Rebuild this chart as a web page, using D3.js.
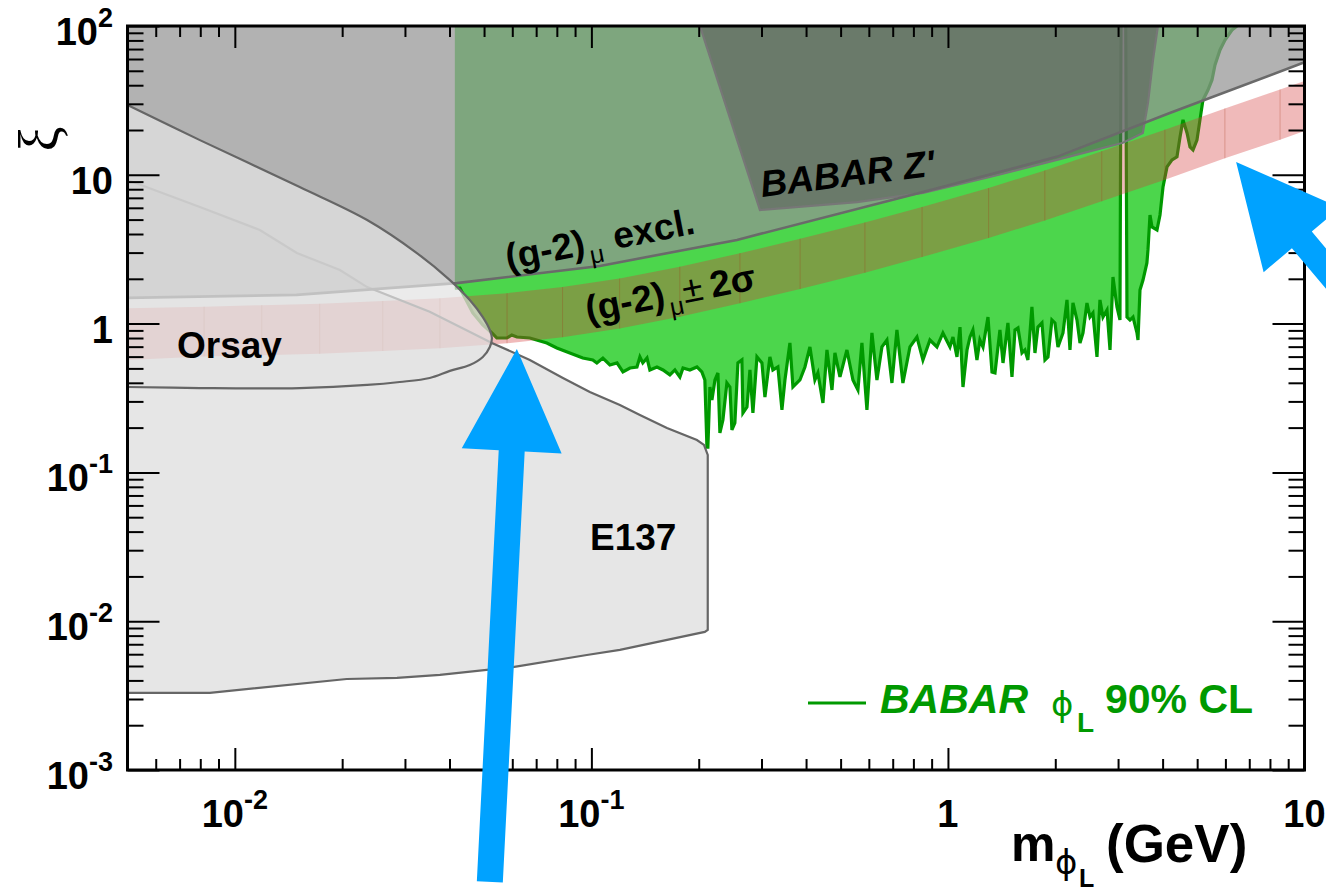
<!DOCTYPE html>
<html>
<head>
<meta charset="utf-8">
<script src="https://cdn.jsdelivr.net/npm/d3@7"></script>
<style>
  html, body { margin: 0; padding: 0; background: #fff; }
  svg { display: block; }
  text { font-family: "Liberation Sans", Arial, Helvetica, sans-serif; }
</style>
</head>
<body>
<svg id="chart" width="1326" height="895"></svg>
<script>
// ---------- data (mass in GeV, coupling xi) ----------

// BABAR phi_L 90% CL upper limit (region above is excluded)
const limitMass = [0.0414, 0.0414, 0.0428, 0.0465, 0.0496, 0.0526, 0.0543, 0.0579, 0.0598, 0.0618, 0.0672,
  0.0750, 0.0800, 0.0870, 0.0946, 0.1009, 0.1036, 0.1077, 0.1127, 0.1180, 0.1226, 0.1283, 0.1342,
  0.1368, 0.1394, 0.1432, 0.1459, 0.1527, 0.1588, 0.1660, 0.1715, 0.1771, 0.1807, 0.1889, 0.1977,
  0.2041, 0.2081, 0.2109, 0.2122, 0.2150, 0.2178, 0.2221, 0.2264, 0.2293, 0.2338, 0.2399, 0.2446,
  0.2478, 0.2526, 0.2576, 0.2643, 0.2661, 0.2731, 0.2784, 0.2838, 0.2913, 0.3008, 0.3067, 0.3167,
  0.3229, 0.3335, 0.3423, 0.3490, 0.3604, 0.3675, 0.3845, 0.3971, 0.4101, 0.4235, 0.4318, 0.4461,
  0.4578, 0.4728, 0.4820, 0.4979, 0.5208, 0.5414, 0.5592, 0.5738, 0.5926, 0.6121, 0.6322, 0.6529,
  0.6743, 0.6965, 0.7193, 0.7476, 0.7824, 0.8186, 0.8508, 0.8902, 0.9314, 0.9682, 1.013, 1.033,
  1.060, 1.081, 1.102, 1.131, 1.153, 1.175, 1.206, 1.229, 1.254, 1.295, 1.329, 1.355, 1.399, 1.427,
  1.473, 1.512, 1.542, 1.572, 1.613, 1.644, 1.676, 1.720, 1.754, 1.788, 1.835, 1.871, 1.908, 1.957,
  1.996, 2.035, 2.102, 2.157, 2.199, 2.242, 2.301, 2.346, 2.392, 2.454, 2.502, 2.551, 2.618, 2.669,
  2.721, 2.793, 2.848, 2.903, 2.979, 3.037, 3.06, 3.15, 3.178, 3.240, 3.304, 3.390, 3.412, 3.456,
  3.524, 3.614, 3.639, 3.687, 3.735, 3.857, 3.933, 4.010, 4.115, 4.250, 4.389, 4.475, 4.563, 4.683,
  4.774, 4.868, 4.993, 5.091, 5.190, 5.361, 5.502, 5.610, 5.794, 5.984, 6.260, 6.466];
const limitXi = [100, 1.73, 1.73, 1.18, 0.979, 0.865, 0.800, 0.800, 0.839, 0.813, 0.800,
  0.741, 0.686, 0.635, 0.587, 0.570, 0.544, 0.587, 0.527, 0.544, 0.473, 0.503, 0.511,
  0.597, 0.544, 0.587, 0.488, 0.511, 0.488, 0.452, 0.488, 0.438, 0.503, 0.488, 0.511,
  0.473, 0.418, 0.148, 0.148, 0.375, 0.307, 0.418, 0.466, 0.184, 0.225, 0.399, 0.375,
  0.193, 0.215, 0.544, 0.570, 0.251, 0.275, 0.488, 0.251, 0.597, 0.544, 0.321, 0.597,
  0.488, 0.511, 0.263, 0.418, 0.741, 0.375, 0.418, 0.511, 0.697, 0.418, 0.466, 0.293,
  0.665, 0.358, 0.635, 0.438, 0.665, 0.418, 0.358, 0.741, 0.263, 0.865, 0.418, 0.697,
  0.776, 0.399, 0.906, 0.399, 0.697, 0.813, 0.570, 0.776, 0.697, 0.865, 0.697, 0.813,
  0.597, 0.948, 0.375, 0.665, 0.813, 0.906, 0.570, 0.776, 0.697, 1.107, 0.473, 0.466, 0.906, 0.544,
  1.01, 0.438, 0.906, 0.935, 0.635, 0.665, 0.570, 1.294, 0.635, 0.948, 1.01, 0.570, 0.597, 1.057,
  1.01, 0.697, 0.865, 1.442, 0.665, 1.376, 1.057, 0.741, 0.865, 1.376, 1.107, 1.178, 0.597, 1.442,
  1.107, 1.235, 0.665, 2.057, 1.294, 1.057, 150, 150, 1.107, 1.057, 1.107, 0.865, 0.776, 1.683,
  1.963, 2.555, 3.126, 5.37, 4.46, 4.26, 5.37, 8.28, 11.3, 12.6, 13.2, 17.9, 23.4, 19.1,
  15.4, 14.7, 17.1, 23.4, 31.8, 37.1, 43.4, 54.7, 69.0, 80.5, 94.0, 100];

// (g-2)_mu +- 2 sigma preferred band
const bandMass  = [0.005, 0.0082, 0.0119, 0.0173, 0.026, 0.0376, 0.058, 0.083, 0.12, 0.177, 0.261,
  0.385, 0.585, 0.846, 1.30, 1.87, 2.70, 4.06, 5.98, 8.54, 10];
const bandUpper = [1.27, 1.30, 1.33, 1.36, 1.42, 1.48, 1.60, 1.76, 2.01, 2.41, 2.97,
  3.72, 4.78, 6.08, 8.15, 10.7, 14.4, 20.1, 27.9, 37.4, 42.7];
const bandLower = [0.57, 0.60, 0.613, 0.627, 0.655, 0.682, 0.738, 0.811, 0.927, 1.11, 1.37,
  1.71, 2.20, 2.80, 3.76, 4.93, 6.64, 9.27, 12.9, 17.2, 19.7];

// (g-2)_mu exclusion boundary (region above is excluded)
const g2ExclMass = [0.005, 0.0149, 0.0419, 0.1056, 0.256, 0.851, 2.02, 4.19, 10];
const g2ExclXi   = [1.49, 1.56, 1.87, 2.44, 3.65, 7.66, 13.2, 26.0, 57];

// Orsay beam dump contour
const orsayMass = [0.005, 0.00798, 0.0152, 0.0235, 0.0324, 0.0401, 0.0456, 0.0496, 0.0519, 0.0526,
  0.0519, 0.0496, 0.0456, 0.0401, 0.0352, 0.0290, 0.0235, 0.0152, 0.00798, 0.005];
const orsayXi = [29.5, 17.1, 8.28, 4.97, 2.98, 1.96, 1.44, 1.107, 0.906, 0.80,
  0.697, 0.597, 0.527, 0.481, 0.431, 0.405, 0.387, 0.369, 0.369, 0.375];

// E137 beam dump contour
const e137Mass = [0.005, 0.00798, 0.01175, 0.01493, 0.01971, 0.0235, 0.0352, 0.0526, 0.0672, 0.0832,
  0.0990, 0.1202, 0.1368, 0.1629, 0.1977, 0.2069, 0.212, 0.212, 0.208, 0.1202, 0.0971, 0.0602,
  0.0376, 0.0285, 0.0206, 0.00851, 0.005];
const e137Xi = [9.23, 6.08, 4.26, 2.98, 2.29, 1.76, 1.20, 0.741, 0.570, 0.431,
  0.347, 0.284, 0.243, 0.199, 0.165, 0.153, 0.131, 0.00873, 0.00847, 0.00641, 0.00593, 0.00492,
  0.00436, 0.00416, 0.00409, 0.00330, 0.00330];

// BABAR Z' exclusion contour
const zpMass = [0.2015, 0.297, 0.556, 0.851, 1.31, 2.02, 3.10, 3.52, 3.64, 3.76, 3.88];
const zpXi   = [100, 5.80, 6.56, 7.55, 9.67, 12.6, 16.4, 19.1, 30.4, 59.2, 100];

// axis tick labels: [mantissa, exponent]
const xTickValues = [0.01, 0.1, 1, 10];
const xTickLabels = [["10", "-2"], ["10", "-1"], ["1", ""], ["10", ""]];
const yTickValues = [1e-3, 1e-2, 1e-1, 1, 10, 100];
const yTickLabels = [["10", "-3"], ["10", "-2"], ["10", "-1"], ["1", ""], ["10", ""], ["10", "2"]];

// annotation arrows: tip and tail, in data coordinates
const arrowTips  = [[0.0618, 0.675], [6.43, 12.2]];
const arrowTails = [[0.0519, 1.77e-4], [14.8, 1.14]];

// ---------- scales ----------
const pL = 127.5, pR = 1304.5, pT = 26, pB = 770;
const x = d3.scaleLog().domain([0.005, 10]).range([pL, pR]);
const y = d3.scaleLog().domain([1e-3, 1e2]).range([pB, pT]);

const svg = d3.select("#chart");
const defs = svg.append("defs");
defs.append("clipPath").attr("id", "plotClip")
  .append("rect").attr("x", pL).attr("y", pT).attr("width", pR - pL).attr("height", pB - pT);

const zip = (ms, xs) => ms.map((m, i) => [x(m), y(xs[i])]);
const line = d3.line();
const plot = svg.append("g").attr("clip-path", "url(#plotClip)");

// E137 area
const e137Pts = zip(e137Mass, e137Xi);
plot.append("path").attr("d", line(e137Pts) + "Z").attr("fill", "#e6e6e6").attr("stroke", "none");

// BABAR phi_L excluded area
const limitPts = zip(limitMass, limitXi);
const greenArea = limitPts.concat([[x(6.6), y(1000)], [x(0.0414), y(1000)]]);
plot.append("path").attr("d", line(greenArea) + "Z").attr("fill", "#4cd64c").attr("stroke", "none");
plot.append("path").attr("d", line(limitPts.slice(1)))
  .attr("fill", "none").attr("stroke", "#009900").attr("stroke-width", 3.2).attr("stroke-linejoin", "miter");

// (g-2)_mu +- 2 sigma band, drawn segment by segment
const bandG = plot.append("g");
for (let i = 0; i < bandMass.length - 1; i++) {
  const seg = [[x(bandMass[i]), y(bandUpper[i])], [x(bandMass[i + 1]), y(bandUpper[i + 1])],
               [x(bandMass[i + 1]), y(bandLower[i + 1])], [x(bandMass[i]), y(bandLower[i])]];
  bandG.append("path").attr("d", line(seg) + "Z").attr("fill", "rgb(212,56,56)").attr("fill-opacity", 0.35);
}
for (let i = 1; i < bandMass.length - 1; i++) {
  bandG.append("line")
    .attr("x1", x(bandMass[i])).attr("x2", x(bandMass[i]))
    .attr("y1", y(bandUpper[i])).attr("y2", y(bandLower[i]))
    .attr("stroke", "rgba(170,60,30,0.3)").attr("stroke-width", 1);
}

// E137 outline (left edge lies on the frame)
plot.append("path").attr("d", line(e137Pts)).attr("fill", "none").attr("stroke", "#666").attr("stroke-width", 2.2);

// (g-2)_mu excluded area
const g2Pts = zip(g2ExclMass, g2ExclXi);
plot.append("path").attr("d", line(g2Pts.concat([[x(10), y(1000)], [x(0.005), y(1000)]])) + "Z")
  .attr("fill", "rgb(147,147,147)").attr("fill-opacity", 0.71).attr("stroke", "none");

// BABAR Z' excluded area
const zpPts = zip(zpMass, zpXi);
plot.append("path").attr("d", line([[zpPts[0][0], y(1000)]].concat(zpPts, [[zpPts[zpPts.length - 1][0], y(1000)]])) + "Z")
  .attr("fill", "rgb(94,94,94)").attr("fill-opacity", 0.6).attr("stroke", "none");
plot.append("path").attr("d", line(zpPts)).attr("fill", "none").attr("stroke", "#777").attr("stroke-width", 2.2);

// (g-2)_mu exclusion boundary
plot.append("path").attr("d", line(g2Pts)).attr("fill", "none").attr("stroke", "#6a6a6a").attr("stroke-width", 2.6);

// Orsay area
const orsayPts = zip(orsayMass, orsayXi);
const smooth = d3.line().curve(d3.curveCatmullRom.alpha(0.5));
plot.append("path").attr("d", smooth(orsayPts) + "Z")
  .attr("fill", "rgb(227,227,227)").attr("fill-opacity", 0.72).attr("stroke", "none");
plot.append("path").attr("d", smooth(orsayPts)).attr("fill", "none").attr("stroke", "#666").attr("stroke-width", 2.2);

// ---------- region labels ----------
const bold = sel => sel.style("font-weight", "bold");
const thin = sel => sel.style("font-weight", "normal");
const labels = svg.append("g").attr("fill", "#000");
labels.append("text").attr("x", 177).attr("y", 358).attr("font-size", 37).call(bold).text("Orsay");
labels.append("text").attr("x", 590).attr("y", 550).attr("font-size", 37).call(bold).text("E137");
labels.append("text").attr("transform", "translate(762,197) rotate(-7)")
  .attr("font-size", 37).attr("font-style", "italic").call(bold).text("BABAR Z'");

const exclLabel = labels.append("text").attr("transform", "translate(508,270) rotate(-11)").attr("font-size", 37).call(bold);
exclLabel.append("tspan").text("(g-2)");
exclLabel.append("tspan").attr("dy", 10).attr("dx", 3).attr("font-size", 25).call(thin).text("μ");
exclLabel.append("tspan").attr("dy", -10).attr("dx", 12).text("excl.");

const bandLabel = labels.append("text").attr("transform", "translate(588,322) rotate(-11)").attr("font-size", 37).call(bold);
bandLabel.append("tspan").text("(g-2)");
bandLabel.append("tspan").attr("dy", 10).attr("dx", 3).attr("font-size", 25).call(thin).text("μ");
bandLabel.append("tspan").attr("dy", -10).attr("dx", 1).call(thin).text("±");
bandLabel.append("tspan").attr("dx", 8).text("2σ");

// ---------- legend ----------
const legend = svg.append("g").attr("fill", "#009900");
legend.append("line").attr("x1", 808).attr("x2", 866).attr("y1", 703).attr("y2", 703)
  .attr("stroke", "#009900").attr("stroke-width", 3);
legend.append("text").attr("x", 880).attr("y", 713).attr("font-size", 41).attr("font-style", "italic").call(bold).text("BABAR");
legend.append("text").attr("x", 1051).attr("y", 716).attr("font-size", 34).call(thin)
  .style("font-family", "'DejaVu Sans', sans-serif").text("ϕ");
legend.append("text").attr("x", 1077).attr("y", 732).attr("font-size", 28).call(bold).text("L");
legend.append("text").attr("x", 1105).attr("y", 713).attr("font-size", 41).call(bold).text("90% CL");

// ---------- axes ----------
const allX = x.ticks();
const allY = y.ticks();
const isMajor = v => Math.abs(Math.log10(v) - Math.round(Math.log10(v))) < 1e-6;
const minorX = allX.filter(v => !isMajor(v)), majorX = allX.filter(isMajor);
const minorY = allY.filter(v => !isMajor(v)), majorY = allY.filter(isMajor);

function drawAxis(gen, tr) {
  const g = svg.append("g").attr("transform", tr).call(gen);
  g.select(".domain").remove();
  g.selectAll(".tick line").attr("stroke", "#000").attr("stroke-width", 2);
  g.selectAll(".tick text").remove();
}
drawAxis(d3.axisBottom(x).tickValues(minorX).tickSize(-11).tickSizeOuter(0), `translate(0,${pB})`);
drawAxis(d3.axisBottom(x).tickValues(majorX).tickSize(-22).tickSizeOuter(0), `translate(0,${pB})`);
drawAxis(d3.axisTop(x).tickValues(minorX).tickSize(-11).tickSizeOuter(0), `translate(0,${pT})`);
drawAxis(d3.axisTop(x).tickValues(majorX).tickSize(-22).tickSizeOuter(0), `translate(0,${pT})`);
drawAxis(d3.axisLeft(y).tickValues(minorY).tickSize(-16).tickSizeOuter(0), `translate(${pL},0)`);
drawAxis(d3.axisLeft(y).tickValues(majorY).tickSize(-32).tickSizeOuter(0), `translate(${pL},0)`);
drawAxis(d3.axisRight(y).tickValues(minorY).tickSize(-16).tickSizeOuter(0), `translate(${pR},0)`);
drawAxis(d3.axisRight(y).tickValues(majorY).tickSize(-32).tickSizeOuter(0), `translate(${pR},0)`);

// frame
svg.append("rect").attr("x", pL).attr("y", pT).attr("width", pR - pL).attr("height", pB - pT)
  .attr("fill", "none").attr("stroke", "#000").attr("stroke-width", 3);

// tick labels
function powerLabel(g, px, py, lab, anchor) {
  const t = g.append("text").attr("x", px).attr("y", py).attr("font-size", 38)
    .attr("text-anchor", anchor).call(bold);
  t.append("tspan").text(lab[0]);
  if (lab[1]) t.append("tspan").attr("dy", -18).attr("font-size", 27).text(lab[1]);
}
const tickLab = svg.append("g").attr("fill", "#000");
xTickValues.forEach((v, i) => powerLabel(tickLab, x(v), 827, xTickLabels[i], "middle"));
yTickValues.forEach((v, i) => powerLabel(tickLab, 113, y(v) + 19, yTickLabels[i], "end"));

// axis titles
const xt = svg.append("g").attr("fill", "#000");
xt.append("text").attr("x", 1011).attr("y", 861).attr("font-size", 50).call(bold).text("m");
xt.append("text").attr("x", 1055).attr("y", 874).attr("font-size", 34).call(thin)
  .style("font-family", "'DejaVu Sans', sans-serif").text("ϕ");
xt.append("text").attr("x", 1079).attr("y", 887).attr("font-size", 25).call(bold).text("L");
xt.append("text").attr("x", 1106).attr("y", 862).attr("font-size", 53).call(bold).text("(GeV)");

svg.append("text").attr("transform", "translate(58,139) rotate(-90)").attr("text-anchor", "middle")
  .attr("font-size", 56).call(thin).style("font-family", "'Liberation Serif', serif")
  .text("ξ");

// ---------- arrows ----------
function arrowShape(tip, tail) {
  const dx = tail[0] - tip[0], dy = tail[1] - tip[1], L = Math.hypot(dx, dy);
  const ux = dx / L, uy = dy / L, nx = -uy, ny = ux;
  const headLen = 102, headHalf = 50, shaftHalf = 13;
  const bx = tip[0] + ux * headLen, by = tip[1] + uy * headLen;
  return [tip,
    [bx + nx * headHalf, by + ny * headHalf],
    [bx + nx * shaftHalf, by + ny * shaftHalf],
    [tail[0] + nx * shaftHalf, tail[1] + ny * shaftHalf],
    [tail[0] - nx * shaftHalf, tail[1] - ny * shaftHalf],
    [bx - nx * shaftHalf, by - ny * shaftHalf],
    [bx - nx * headHalf, by - ny * headHalf]];
}
arrowTips.forEach((t, i) => {
  const tip = [x(t[0]), y(t[1])], tail = [x(arrowTails[i][0]), y(arrowTails[i][1])];
  svg.append("path").attr("d", line(arrowShape(tip, tail)) + "Z").attr("fill", "#00a2ff");
});
</script>
</body>
</html>
